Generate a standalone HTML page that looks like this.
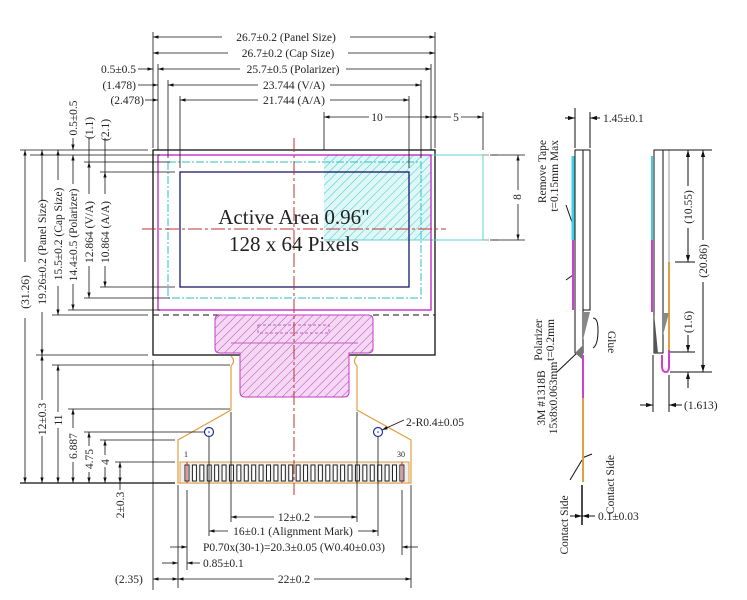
<!DOCTYPE html>
<html><head><meta charset="utf-8"><style>
html,body{margin:0;padding:0;background:#fff}
svg{display:block}
text{font-family:"Liberation Serif",serif;font-size:11.5px;fill:#222}
</style></head><body>
<svg width="747" height="600" viewBox="0 0 747 600" xmlns="http://www.w3.org/2000/svg">
<defs>
<marker id="a" viewBox="0 0 10 10" refX="10" refY="5" markerWidth="7" markerHeight="7" orient="auto-start-reverse"><path d="M0,2 L10,5 L0,8z" fill="#111"/></marker>
<pattern id="hm" width="6" height="6" patternUnits="userSpaceOnUse" patternTransform="rotate(45)"><rect width="6" height="6" fill="#f4d8f4"/><line x1="0" y1="0" x2="0" y2="6" stroke="#c040c0" stroke-width="1"/></pattern>
<pattern id="hc" width="6" height="6" patternUnits="userSpaceOnUse" patternTransform="rotate(45)"><rect width="6" height="6" fill="#dff7f7"/><line x1="0" y1="0" x2="0" y2="6" stroke="#40c8c8" stroke-width="1"/></pattern>
</defs>
<g stroke="#111" stroke-width="1" fill="none">
<rect x="153" y="150" width="282" height="205" stroke-width="1.3"/>
<line x1="153" y1="315" x2="435" y2="315" stroke-dasharray="6,4"/>
</g>
<rect x="324" y="155" width="107" height="85" fill="url(#hc)"/>
<path d="M431,155 H483 V240 H324" fill="none" stroke="#60d0d0"/>
<line x1="483" y1="155" x2="500" y2="155" stroke="#999" stroke-dasharray="6,3"/>
<line x1="483" y1="240" x2="500" y2="240" stroke="#999" stroke-dasharray="6,3"/>
<rect x="158" y="155" width="273" height="155" fill="none" stroke="#c020c0" stroke-width="1.3"/>
<rect x="168" y="162" width="253" height="136" fill="none" stroke="#30c0c0" stroke-dasharray="8,2,2,2"/>
<rect x="180" y="172" width="229" height="115" fill="none" stroke="#1a1a6a" stroke-width="1.3"/>
<path d="M215,320 Q215,315 220,315 H368 Q373,315 373,320 V348 Q373,353 368,353 H349 V392 Q349,397 344,397 H245 Q240,397 240,392 V353 H220 Q215,353 215,348z" fill="url(#hm)" stroke="#c040c0"/>
<rect x="258" y="325" width="71" height="8" fill="none" stroke="#c060c0" stroke-dasharray="3,2"/>
<path d="M231,343 H358" stroke="#c060c0" fill="none"/>
<path d="M231,356 Q236,361 231,366 L231,410 L178,440 V483 H411 V440 L357,410 V366 Q352,361 357,356" fill="none" stroke="#e0a040" stroke-width="1.2"/>
<rect x="180" y="462" width="229" height="21" fill="#eee" stroke="#e0a040"/>
<g stroke="#222" stroke-width="1" fill="#fff" id="pins"></g>
<circle cx="209" cy="432" r="4.5" fill="none" stroke="#2030a0" stroke-width="1.2"/><circle cx="209" cy="432" r="0.8" fill="#2030a0"/>
<circle cx="378" cy="432" r="4.5" fill="none" stroke="#2030a0" stroke-width="1.2"/><circle cx="378" cy="432" r="0.8" fill="#2030a0"/>
<text x="184" y="457" style="font-size:8px">1</text><text x="397" y="457" style="font-size:8px">30</text>
<g stroke="#c03030" stroke-width="1" stroke-dasharray="14,3,3,3">
<line x1="294" y1="138" x2="294" y2="495"/>
<line x1="142" y1="229" x2="446" y2="229"/>
</g>
<line x1="187" y1="462" x2="187" y2="483" stroke="#c03030"/><line x1="402" y1="462" x2="402" y2="483" stroke="#c03030"/>
<text x="294" y="224" text-anchor="middle" style="font-size:21px">Active Area 0.96"</text>
<text x="294" y="251" text-anchor="middle" style="font-size:21px">128 x 64 Pixels</text>

<g stroke="#111" stroke-width="0.8" fill="none">
<line x1="153" y1="32" x2="153" y2="148"/><line x1="435" y1="32" x2="435" y2="148"/>
<line x1="158" y1="64" x2="158" y2="150"/><line x1="431" y1="64" x2="431" y2="150"/>
<line x1="168" y1="80" x2="168" y2="158"/><line x1="421" y1="80" x2="421" y2="158"/>
<line x1="180" y1="96" x2="180" y2="168"/><line x1="409" y1="96" x2="409" y2="168"/>
<line x1="324" y1="112" x2="324" y2="150"/><line x1="483" y1="112" x2="483" y2="150"/>
<line x1="153" y1="37" x2="435" y2="37" marker-start="url(#a)" marker-end="url(#a)"/>
<line x1="153" y1="53" x2="435" y2="53" marker-start="url(#a)" marker-end="url(#a)"/>
<line x1="158" y1="69" x2="431" y2="69" marker-start="url(#a)" marker-end="url(#a)"/>
<line x1="168" y1="85" x2="421" y2="85" marker-start="url(#a)" marker-end="url(#a)"/>
<line x1="180" y1="100" x2="409" y2="100" marker-start="url(#a)" marker-end="url(#a)"/>
<line x1="324" y1="117" x2="431" y2="117" marker-start="url(#a)" marker-end="url(#a)"/>
<line x1="431" y1="117" x2="483" y2="117" marker-start="url(#a)" marker-end="url(#a)"/>
<line x1="138" y1="69" x2="153" y2="69" marker-end="url(#a)"/>
<line x1="138" y1="85" x2="158" y2="85" marker-end="url(#a)"/>
<line x1="145" y1="100" x2="158" y2="100" marker-end="url(#a)"/>
<line x1="490" y1="155" x2="525" y2="155"/><line x1="490" y1="240" x2="525" y2="240"/>
<line x1="518" y1="155" x2="518" y2="240" marker-start="url(#a)" marker-end="url(#a)"/>
<line x1="20" y1="150" x2="148" y2="150"/><line x1="30" y1="155" x2="160" y2="155"/>
<line x1="84" y1="162" x2="170" y2="162"/><line x1="100" y1="172" x2="175" y2="172"/>
<line x1="100" y1="287" x2="175" y2="287"/><line x1="84" y1="298" x2="170" y2="298"/>
<line x1="68" y1="310" x2="160" y2="310"/><line x1="52" y1="315" x2="148" y2="315"/>
<line x1="36" y1="355" x2="148" y2="355"/><line x1="52" y1="365" x2="230" y2="365"/>
<line x1="68" y1="409" x2="230" y2="409"/><line x1="84" y1="432" x2="205" y2="432"/>
<line x1="100" y1="440" x2="175" y2="440"/><line x1="115" y1="462" x2="175" y2="462"/>
<line x1="20" y1="483" x2="175" y2="483" stroke-width="1.2"/>
<line x1="25" y1="150" x2="25" y2="483" marker-start="url(#a)" marker-end="url(#a)"/>
<line x1="42" y1="150" x2="42" y2="355" marker-start="url(#a)" marker-end="url(#a)"/>
<line x1="58" y1="150" x2="58" y2="315" marker-start="url(#a)" marker-end="url(#a)"/>
<line x1="73" y1="155" x2="73" y2="310" marker-start="url(#a)" marker-end="url(#a)"/>
<line x1="89" y1="162" x2="89" y2="298" marker-start="url(#a)" marker-end="url(#a)"/>
<line x1="105" y1="172" x2="105" y2="287" marker-start="url(#a)" marker-end="url(#a)"/>
<line x1="73" y1="138" x2="73" y2="150" marker-end="url(#a)"/>
<line x1="89" y1="138" x2="89" y2="162" />
<line x1="105" y1="138" x2="105" y2="172"/>
<line x1="42" y1="355" x2="42" y2="483" marker-start="url(#a)" marker-end="url(#a)"/>
<line x1="58" y1="365" x2="58" y2="483" marker-start="url(#a)" marker-end="url(#a)"/>
<line x1="73" y1="409" x2="73" y2="483" marker-start="url(#a)" marker-end="url(#a)"/>
<line x1="89" y1="432" x2="89" y2="483" marker-start="url(#a)" marker-end="url(#a)"/>
<line x1="105" y1="440" x2="105" y2="483" marker-start="url(#a)" marker-end="url(#a)"/>
<line x1="120" y1="462" x2="120" y2="483" marker-start="url(#a)" marker-end="url(#a)"/>
<line x1="120" y1="483" x2="120" y2="490"/>
<line x1="153" y1="360" x2="153" y2="590"/>
<line x1="178" y1="485" x2="178" y2="588"/><line x1="411" y1="485" x2="411" y2="588"/>
<line x1="187" y1="490" x2="187" y2="570"/><line x1="402" y1="490" x2="402" y2="555"/>
<line x1="209" y1="437" x2="209" y2="536"/><line x1="378" y1="437" x2="378" y2="536"/>
<line x1="231" y1="412" x2="231" y2="522"/><line x1="357" y1="412" x2="357" y2="522"/>
<line x1="231" y1="517" x2="357" y2="517" marker-start="url(#a)" marker-end="url(#a)"/>
<line x1="209" y1="531" x2="378" y2="531" marker-start="url(#a)" marker-end="url(#a)"/>
<line x1="170" y1="547" x2="187" y2="547" marker-end="url(#a)"/>
<line x1="418" y1="547" x2="402" y2="547" marker-end="url(#a)"/>
<line x1="162" y1="563" x2="178" y2="563" marker-end="url(#a)"/>
<line x1="200" y1="563" x2="187" y2="563" marker-end="url(#a)"/>
<line x1="153" y1="579" x2="178" y2="579" marker-start="url(#a)" marker-end="url(#a)"/>
<line x1="178" y1="579" x2="411" y2="579" marker-start="url(#a)" marker-end="url(#a)"/>
<line x1="404" y1="420" x2="382" y2="430" marker-end="url(#a)"/>
</g>
<g>
<rect x="222" y="31" width="128" height="12" fill="#fff"/><text x="286" y="41" text-anchor="middle">26.7±0.2 (Panel Size)</text>
<rect x="228" y="47" width="120" height="12" fill="#fff"/><text x="288" y="57" text-anchor="middle">26.7±0.2 (Cap Size)</text>
<rect x="240" y="63" width="106" height="12" fill="#fff"/><text x="293" y="73" text-anchor="middle">25.7±0.5 (Polarizer)</text>
<rect x="258" y="79" width="72" height="12" fill="#fff"/><text x="294" y="89" text-anchor="middle">23.744 (V/A)</text>
<rect x="258" y="94" width="72" height="12" fill="#fff"/><text x="294" y="104" text-anchor="middle">21.744 (A/A)</text>
<rect x="369" y="111" width="16" height="12" fill="#fff"/><text x="377" y="121" text-anchor="middle">10</text>
<rect x="451" y="111" width="10" height="12" fill="#fff"/><text x="456" y="121" text-anchor="middle">5</text>
<text x="136" y="73" text-anchor="end">0.5±0.5</text>
<text x="136" y="89" text-anchor="end">(1.478)</text>
<text x="144" y="104" text-anchor="end">(2.478)</text>
<rect x="508" y="190" width="20" height="14" fill="#fff"/><text transform="translate(521,197) rotate(-90)" text-anchor="middle">8</text>
<rect x="18" y="262" width="14" height="56" fill="#fff"/><text transform="translate(29,292) rotate(-90)" text-anchor="middle">(31.26)</text>
<rect x="35" y="200" width="14" height="112" fill="#fff"/><text transform="translate(46,252) rotate(-90)" text-anchor="middle">19.26±0.2 (Panel Size)</text>
<rect x="51" y="180" width="14" height="106" fill="#fff"/><text transform="translate(62,234) rotate(-90)" text-anchor="middle">15.5±0.2 (Cap Size)</text>
<rect x="66" y="184" width="14" height="100" fill="#fff"/><text transform="translate(77,235) rotate(-90)" text-anchor="middle">14.4±0.5 (Polarizer)</text>
<rect x="82" y="194" width="14" height="72" fill="#fff"/><text transform="translate(93,232) rotate(-90)" text-anchor="middle">12.864 (V/A)</text>
<rect x="98" y="194" width="14" height="72" fill="#fff"/><text transform="translate(109,232) rotate(-90)" text-anchor="middle">10.864 (A/A)</text>
<text transform="translate(77,118) rotate(-90)" text-anchor="middle">0.5±0.5</text>
<text transform="translate(93,128) rotate(-90)" text-anchor="middle">(1.1)</text>
<text transform="translate(109,130) rotate(-90)" text-anchor="middle">(2.1)</text>
<rect x="35" y="400" width="14" height="36" fill="#fff"/><text transform="translate(46,419) rotate(-90)" text-anchor="middle">12±0.3</text>
<rect x="51" y="412" width="14" height="16" fill="#fff"/><text transform="translate(62,420) rotate(-90)" text-anchor="middle">11</text>
<rect x="66" y="428" width="14" height="34" fill="#fff"/><text transform="translate(77,446) rotate(-90)" text-anchor="middle">6.887</text>
<rect x="82" y="446" width="14" height="26" fill="#fff"/><text transform="translate(93,459) rotate(-90)" text-anchor="middle">4.75</text>
<rect x="98" y="455" width="14" height="12" fill="#fff"/><text transform="translate(109,462) rotate(-90)" text-anchor="middle">4</text>
<text transform="translate(124,505) rotate(-90)" text-anchor="middle">2±0.3</text>
<rect x="274" y="511" width="40" height="12" fill="#fff"/><text x="294" y="521" text-anchor="middle">12±0.2</text>
<rect x="228" y="525" width="130" height="12" fill="#fff"/><text x="293" y="535" text-anchor="middle">16±0.1 (Alignment Mark)</text>
<text x="294" y="551" text-anchor="middle">P0.70x(30-1)=20.3±0.05 (W0.40±0.03)</text>
<text x="203" y="567">0.85±0.1</text>
<text x="115" y="583">(2.35)</text>
<rect x="274" y="573" width="40" height="12" fill="#fff"/><text x="294" y="583" text-anchor="middle">22±0.2</text>
<text x="406" y="426">2-R0.4±0.05</text>
</g>

<g fill="none" stroke="#111" stroke-width="1">
<rect x="575" y="150" width="8" height="203"/>
<rect x="583" y="150" width="7" height="160"/>
<line x1="565" y1="118" x2="575" y2="118" marker-end="url(#a)"/><line x1="600" y1="118" x2="590" y2="118" marker-end="url(#a)"/>
<line x1="575" y1="108" x2="575" y2="148"/><line x1="590" y1="112" x2="590" y2="148"/>
<line x1="582" y1="485" x2="582" y2="525" stroke-width="1.5"/>
<line x1="570" y1="516" x2="582" y2="516" marker-end="url(#a)"/><line x1="595" y1="516" x2="582" y2="516" marker-end="url(#a)"/>
<path d="M573,225 L566,205" /><path d="M573,275 L566,280"/>
<path d="M578,352 L557,372"/><path d="M582,458 L592,454"/><path d="M582,460 L570,480"/>
<path d="M593,318 Q598,318 598,330 Q598,345 593,348"/>
</g>
<line x1="573" y1="156" x2="573" y2="240" stroke="#40d0e0" stroke-width="3"/>
<line x1="573" y1="240" x2="573" y2="310" stroke="#d040d0" stroke-width="2"/>
<path d="M583,312 L590,312 L583,340z" fill="#888"/>
<path d="M575,353 L583,345 L583,360z" fill="#777"/>
<line x1="583" y1="355" x2="583" y2="398" stroke="#d040d0" stroke-width="2"/>
<line x1="583" y1="398" x2="583" y2="482" stroke="#e0a040" stroke-width="2"/>
<text x="603" y="122">1.45±0.1</text>
<text transform="translate(546,140) rotate(-90)" text-anchor="end">Remove Tape</text>
<text transform="translate(558,140) rotate(-90)" text-anchor="end">t=0.15mm Max</text>
<text transform="translate(542,340) rotate(-90)" text-anchor="middle">Polarizer</text>
<text transform="translate(554,340) rotate(-90)" text-anchor="middle">t=0.2mm</text>
<text transform="translate(608,342) rotate(90)" text-anchor="middle">Glue</text>
<text transform="translate(545,398) rotate(-90)" text-anchor="middle">3M #1318B</text>
<text transform="translate(557,398) rotate(-90)" text-anchor="middle">15x8x0.063mm</text>
<text transform="translate(614,455) rotate(-90)" text-anchor="end">Contact Side</text>
<text transform="translate(568,525) rotate(-90)" text-anchor="middle">Contact Side</text>
<text x="598" y="520">0.1±0.03</text>

<g fill="none" stroke="#111" stroke-width="1">
<rect x="654" y="150" width="9" height="203"/>
<line x1="669" y1="150" x2="669" y2="262" stroke="#999"/>
<line x1="663" y1="150" x2="712" y2="150"/>
<line x1="675" y1="262" x2="695" y2="262"/>
<line x1="670" y1="352" x2="695" y2="352"/>
<line x1="670" y1="372" x2="712" y2="372"/>
<line x1="688" y1="150" x2="688" y2="262" marker-start="url(#a)" marker-end="url(#a)"/>
<line x1="703" y1="150" x2="703" y2="372" marker-start="url(#a)" marker-end="url(#a)"/>
<line x1="688" y1="335" x2="688" y2="352" marker-end="url(#a)"/>
<line x1="688" y1="388" x2="688" y2="372" marker-end="url(#a)"/>
<line x1="653" y1="355" x2="653" y2="412"/><line x1="669" y1="375" x2="669" y2="412"/>
<line x1="640" y1="405" x2="653" y2="405" marker-end="url(#a)"/>
<line x1="682" y1="405" x2="669" y2="405" marker-end="url(#a)"/>
</g>
<line x1="652" y1="156" x2="652" y2="240" stroke="#40d0e0" stroke-width="2"/>
<line x1="652" y1="240" x2="652" y2="312" stroke="#d040d0" stroke-width="2"/>
<line x1="669" y1="262" x2="669" y2="350" stroke="#e0a040" stroke-width="2"/>
<path d="M669,350 V366 Q669,372 666,372 Q662,372 662,366 V355" fill="none" stroke="#d040d0" stroke-width="2"/>
<path d="M654,313 L654,353 L658,353z" fill="#555"/>
<path d="M663,313 L669,313 L663,335z" fill="#888"/>
<rect x="680" y="186" width="14" height="42" fill="#fff"/><text transform="translate(692,207) rotate(-90)" text-anchor="middle">(10.55)</text>
<rect x="696" y="240" width="14" height="42" fill="#fff"/><text transform="translate(707,261) rotate(-90)" text-anchor="middle">(20.86)</text>
<text transform="translate(692,322) rotate(-90)" text-anchor="middle">(1.6)</text>
<text x="684" y="409">(1.613)</text>
</svg>
<script>
var g=document.getElementById('pins'),s='';
for(var i=0;i<30;i++){var x=187+i*7.41;s+='<rect x="'+(x-2)+'" y="465" width="4" height="16"/>';}
g.innerHTML=s;
</script>
</body></html>
